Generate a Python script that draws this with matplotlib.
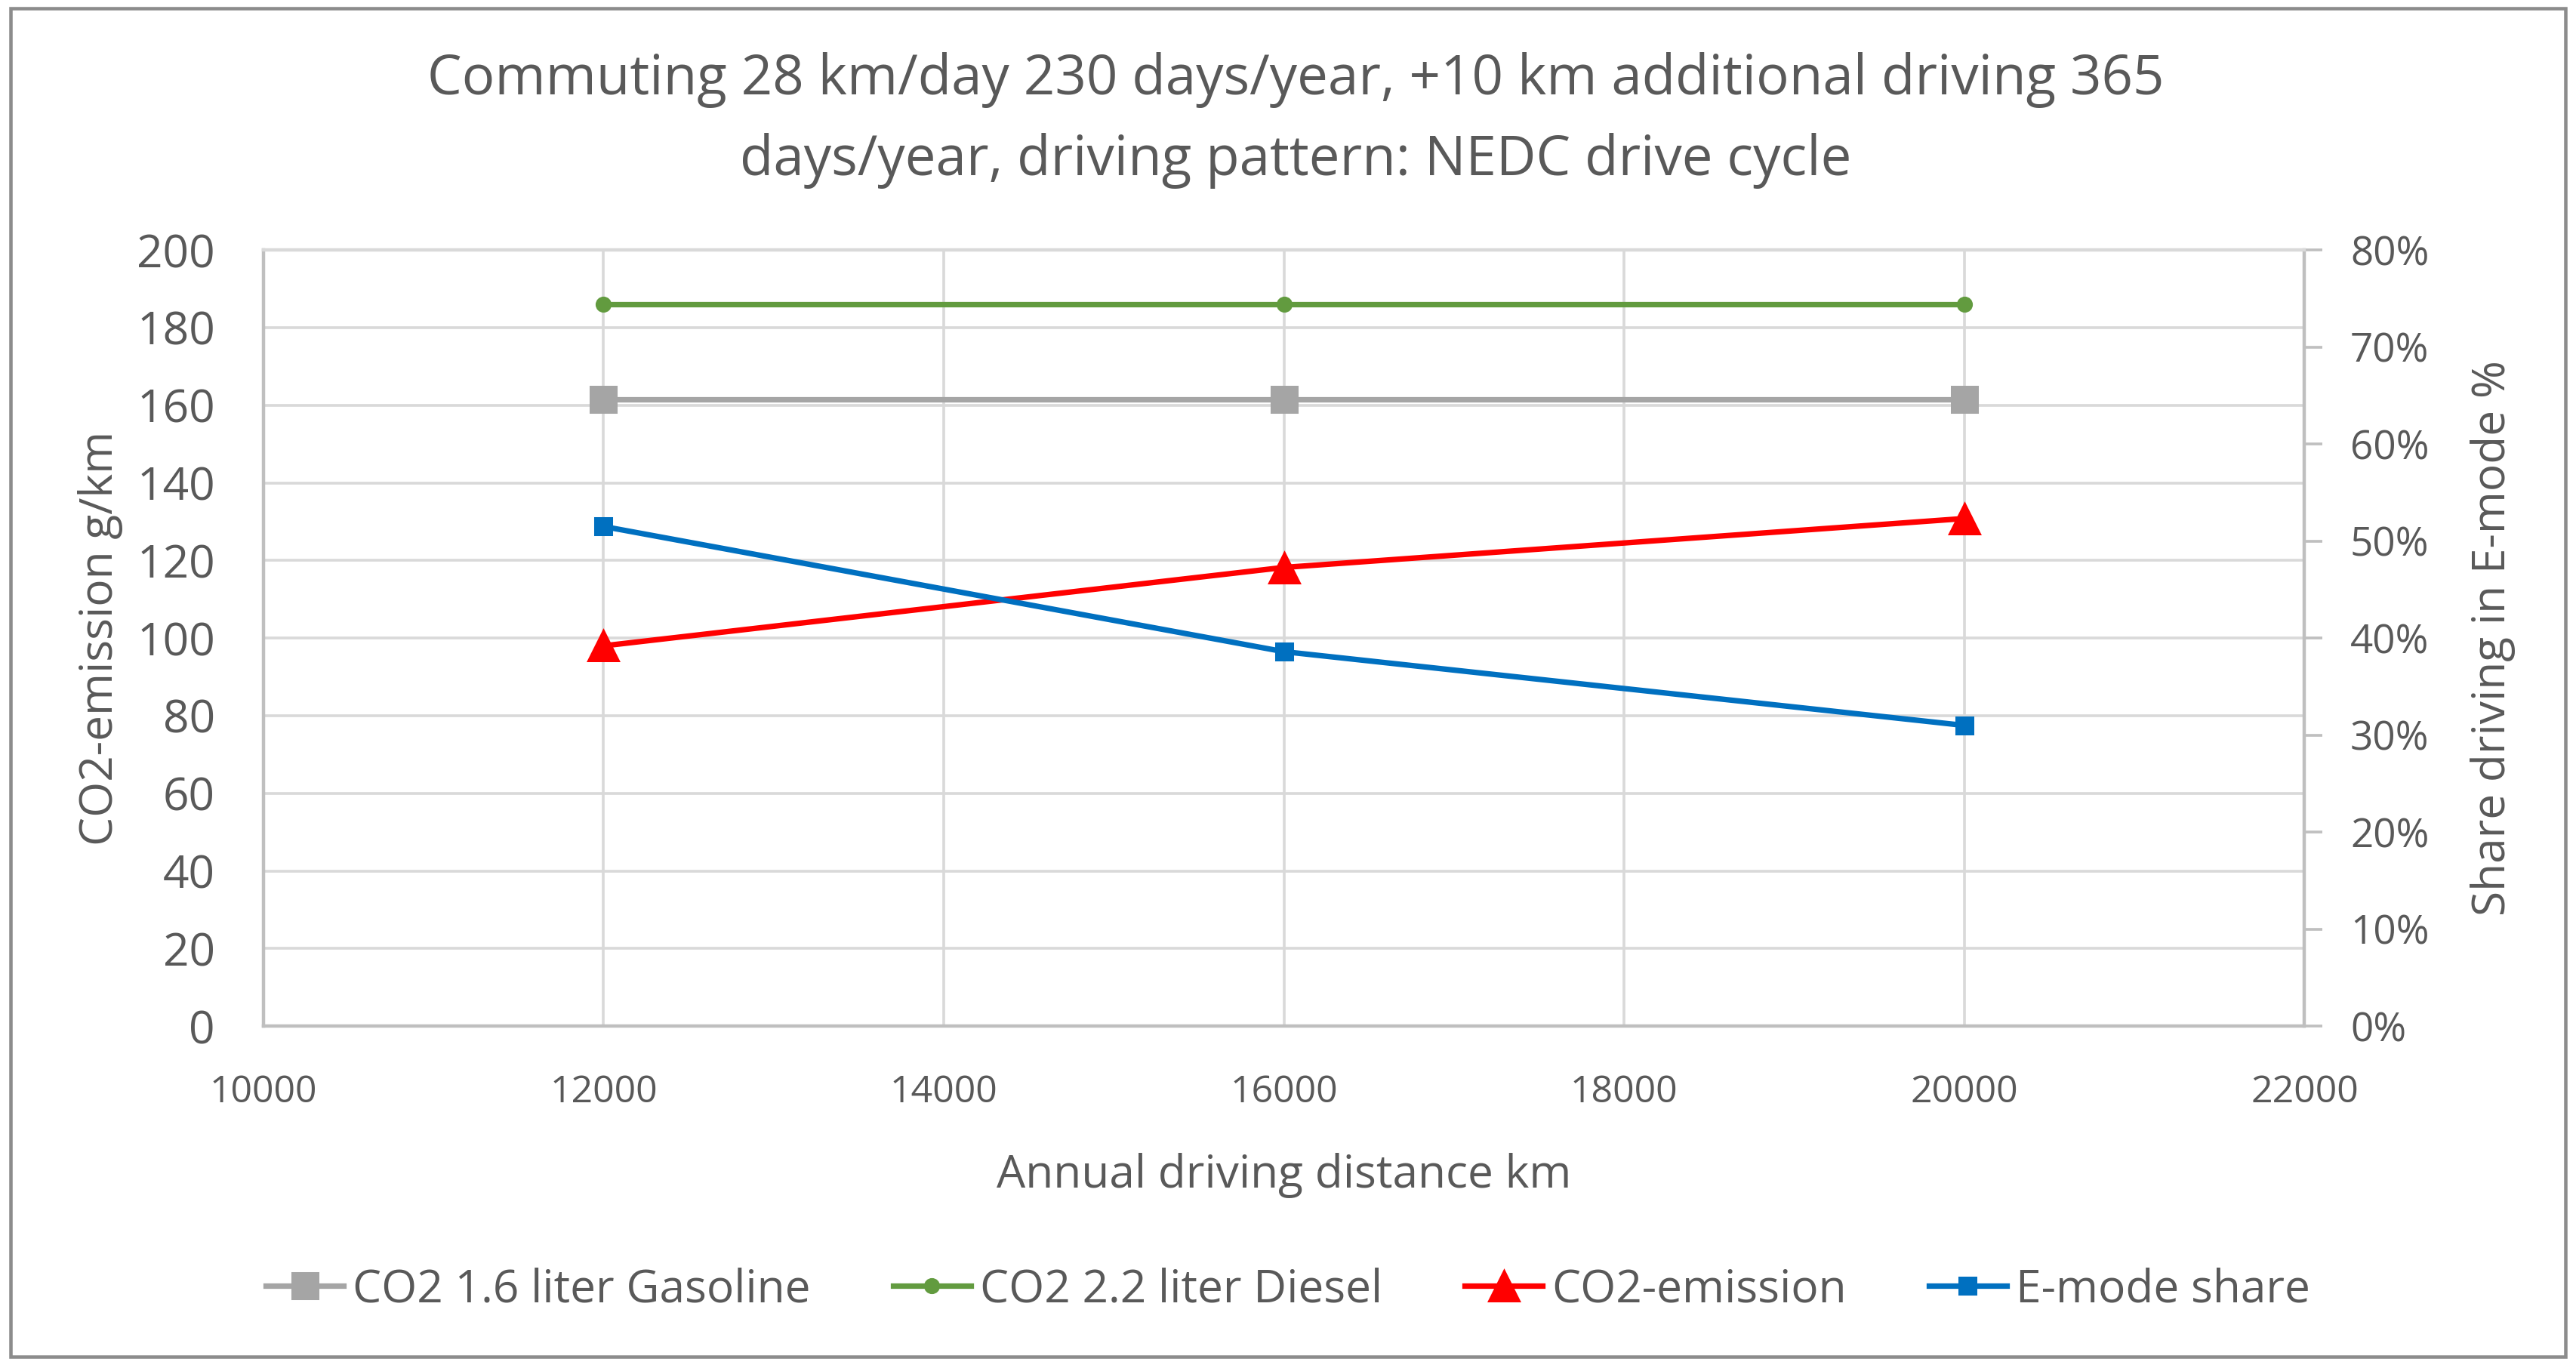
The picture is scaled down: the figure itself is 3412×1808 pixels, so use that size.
import matplotlib.pyplot as plt
from matplotlib.ticker import FuncFormatter, MultipleLocator
from matplotlib.patches import Rectangle

plt.rcParams["font.family"] = ["Open Sans", "DejaVu Sans"]

# data
distance_km = [12000, 16000, 20000]
gasoline_co2 = [161.5, 161.5, 161.5]
diesel_co2 = [186.0, 186.0, 186.0]
phev_co2 = [98.0, 118.2, 130.8]
emode_share = [0.515, 0.386, 0.310]

TXT = "#595959"
GRID = "#D9D9D9"

fig = plt.figure(figsize=(3412 / 218, 1808 / 218), dpi=218)
ax = fig.add_axes([0.1022, 0.2482, 0.7924, 0.5687])
ax2 = ax.twinx()

ax.plot(distance_km, gasoline_co2, color="#A5A5A5", lw=2.4, marker="s", ms=11,
        label="CO2 1.6 liter Gasoline", zorder=3)
ax.plot(distance_km, diesel_co2, color="#629B3F", lw=2.4, marker="o", ms=6,
        label="CO2 2.2 liter Diesel", zorder=3)
ax.plot(distance_km, phev_co2, color="#FF0000", lw=2.4, marker="^", ms=13,
        label="CO2-emission", zorder=4)
ax2.plot(distance_km, emode_share, color="#0070C0", lw=2.4, marker="s", ms=7,
         label="E-mode share", zorder=4)

ax.set_xlim(10000, 22000)
ax.set_ylim(0, 200)
ax2.set_ylim(0, 0.8)
ax.xaxis.set_major_locator(MultipleLocator(2000))
ax.yaxis.set_major_locator(MultipleLocator(20))
ax2.yaxis.set_major_locator(MultipleLocator(0.1))
ax2.yaxis.set_major_formatter(FuncFormatter(lambda v, p: f"{v * 100:.0f}%"))

ax.grid(True, color=GRID, lw=1.2, zorder=0)
ax.set_axisbelow(True)

for a in (ax, ax2):
    for s in a.spines.values():
        s.set_color("#BFBFBF")
        s.set_linewidth(1.4)
    a.spines["top"].set_color(GRID)
ax.tick_params(axis="x", length=0, pad=21, labelsize=16.5, labelcolor=TXT)
ax.tick_params(axis="y", length=0, pad=21, labelsize=20, labelcolor=TXT)
ax2.tick_params(axis="y", length=8, width=1.2, color="#BFBFBF", pad=12,
                labelsize=17.5, labelcolor=TXT)

ax.set_xlabel("Annual driving distance km", fontsize=20, color=TXT, labelpad=18)
ax.set_ylabel("CO2-emission g/km", fontsize=20, color=TXT, labelpad=6)
ax2.set_ylabel("Share driving in E-mode %", fontsize=20, color=TXT, labelpad=18)

fig.suptitle("Commuting 28 km/day 230 days/year, +10 km additional driving 365\n"
             "days/year, driving pattern: NEDC drive cycle",
             x=0.503, y=0.962, fontsize=24, color=TXT, linespacing=1.6)

h1, l1 = ax.get_legend_handles_labels()
h2, l2 = ax2.get_legend_handles_labels()
fig.legend(h1 + h2, l1 + l2, loc="center", bbox_to_anchor=(0.5, 0.055), ncol=4,
           frameon=False, fontsize=20, labelcolor=TXT, handlelength=1.7,
           handletextpad=0.2, columnspacing=1.8)

fig.patches.append(Rectangle((0.004, 0.006), 0.992, 0.988, transform=fig.transFigure,
                             fill=False, edgecolor="#8C8C8C", lw=1.5))

fig.savefig("out.png", dpi=218, facecolor="white")
